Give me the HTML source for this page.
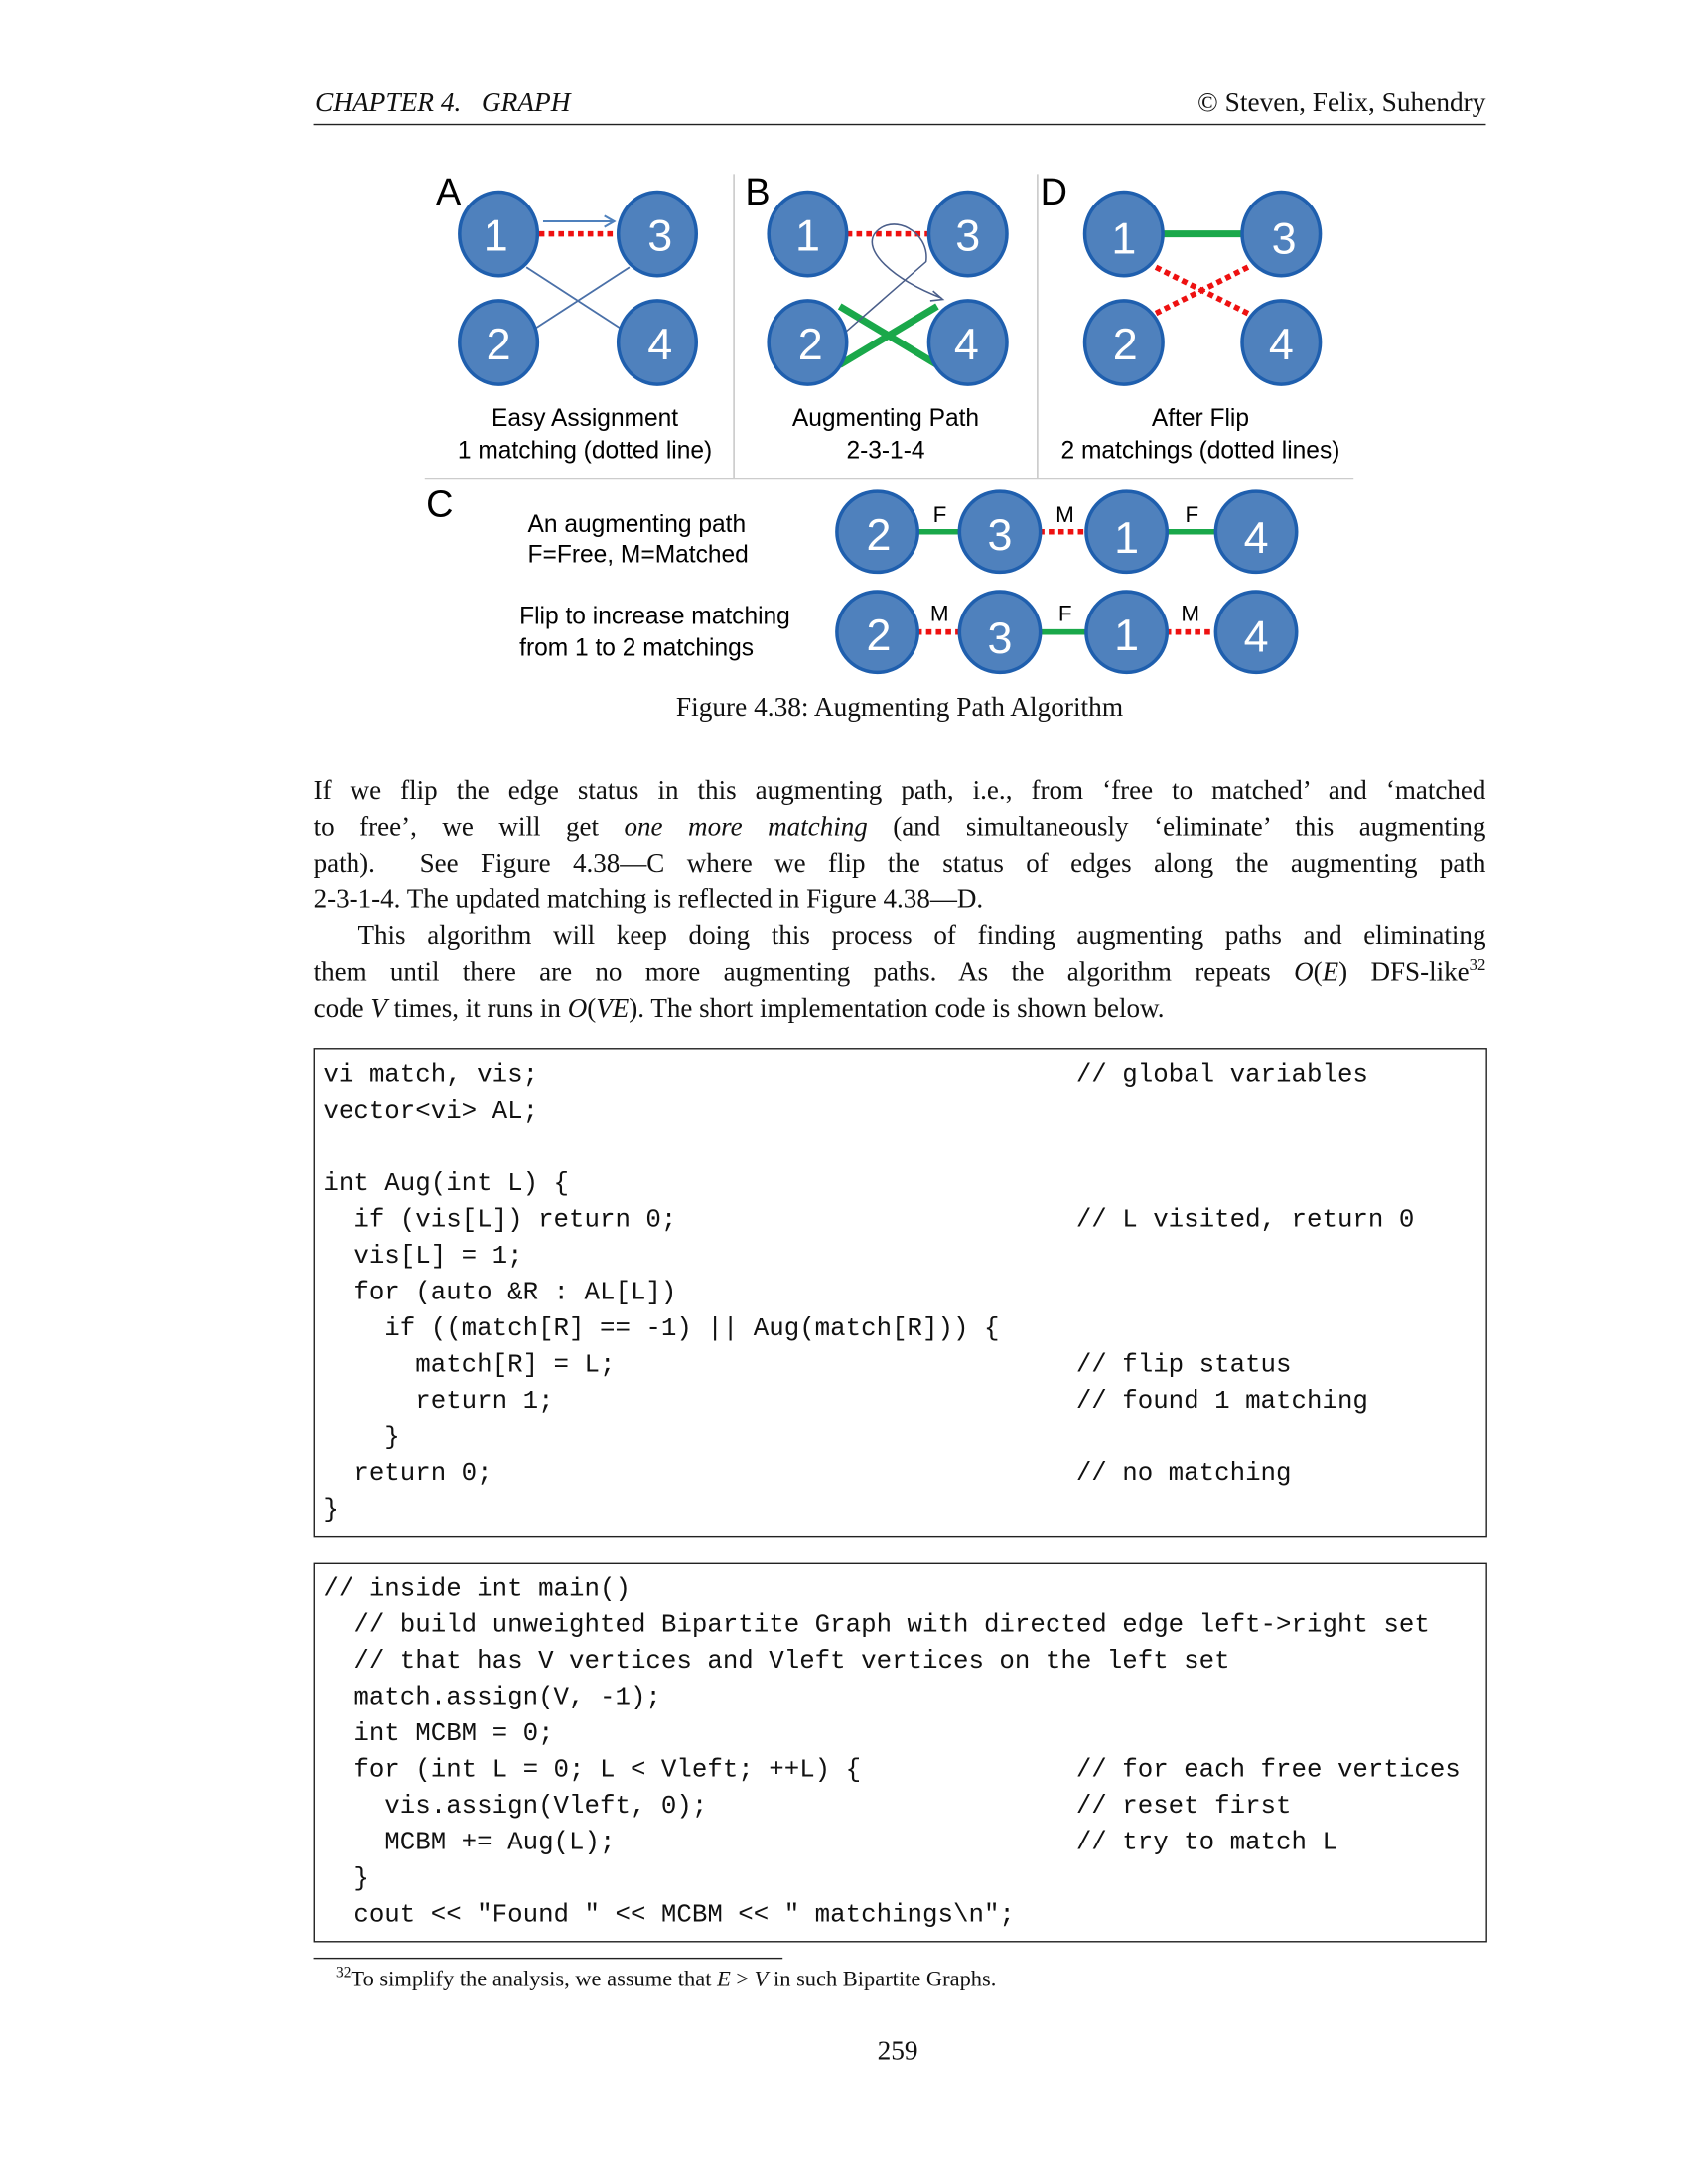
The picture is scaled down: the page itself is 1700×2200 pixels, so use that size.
<!DOCTYPE html>
<html><head><meta charset="utf-8">
<style>
html,body{margin:0;padding:0;background:#fff;}
#wrap{width:1700px;height:2200px;overflow:hidden;position:relative;}
#page{position:absolute;left:0;top:0;width:1224px;height:1584px;transform:scale(1.4025);transform-origin:0 0;font-family:"Liberation Serif",serif;color:#111;}
.abs{position:absolute;}
.ln{position:absolute;left:225px;width:842px;font-size:19.3px;text-align:justify;text-align-last:justify;white-space:nowrap;line-height:26px;}
.ln.nj{text-align-last:left;}
.box{position:absolute;left:225px;width:841px;border:1px solid #222;}
pre{margin:0;position:absolute;left:6px;font-family:"Liberation Mono",monospace;font-size:18.4px;line-height:26px;color:#111;}
</style></head><body>
<div id="wrap"><div id="page">
<div class="abs" style="left:226px;top:64px;font-size:19.5px;font-style:italic;">CHAPTER 4.&nbsp;&nbsp; GRAPH</div>
<div class="abs" style="right:157px;top:64px;font-size:19.5px;">© Steven, Felix, Suhendry</div>
<div class="abs" style="left:225px;top:89px;width:842px;height:1px;background:#222;"></div>

<svg class="abs" style="left:0;top:0" width="1224" height="540" viewBox="0 0 1224 540" font-family="Liberation Sans, sans-serif">
<g stroke="#ccc" stroke-width="1.2">
<line x1="527" y1="125" x2="527" y2="343"/><line x1="745" y1="125" x2="745" y2="343"/>
<line x1="305" y1="344" x2="972" y2="344"/></g>
<g font-size="27" fill="#000"><text x="313" y="147">A</text><text x="535" y="147">B</text><text x="747" y="147">D</text><text x="306" y="371">C</text></g>
<line x1="387" y1="168" x2="444" y2="168" stroke="#e11" stroke-width="4" stroke-dasharray="4,3"/>
<line x1="378" y1="192" x2="452" y2="240" stroke="#4a70a8" stroke-width="1.3"/>
<line x1="378" y1="240" x2="452" y2="192" stroke="#4a70a8" stroke-width="1.3"/>
<line x1="390" y1="159" x2="440" y2="159" stroke="#4f81bd" stroke-width="1.5"/><path d="M434,155 L441,159 L434,163" fill="none" stroke="#4f81bd" stroke-width="1.5"/>
<line x1="608" y1="168" x2="667" y2="168" stroke="#e11" stroke-width="4" stroke-dasharray="4,3"/>
<line x1="603" y1="220" x2="673" y2="262" stroke="#1aa84a" stroke-width="5"/>
<line x1="603" y1="262" x2="673" y2="220" stroke="#1aa84a" stroke-width="5"/>
<path d="M602,243 L665,188 C 668,166 640,152 628,168 C 620,180 640,200 676,214" fill="none" stroke="#4a5e8a" stroke-width="1.1"/>
<path d="M670,209 L677,215 L668,216" fill="none" stroke="#4a5e8a" stroke-width="1.1"/>
<line x1="835" y1="168" x2="892" y2="168" stroke="#1aa84a" stroke-width="5"/>
<line x1="830" y1="192" x2="898" y2="226" stroke="#e11" stroke-width="4" stroke-dasharray="4,3"/>
<line x1="830" y1="225" x2="898" y2="191" stroke="#e11" stroke-width="4" stroke-dasharray="4,3"/>
<line x1="658" y1="382" x2="690" y2="382" stroke="#1aa84a" stroke-width="4"/>
<line x1="746" y1="382" x2="781" y2="382" stroke="#e11" stroke-width="4" stroke-dasharray="4,3"/>
<line x1="837" y1="382" x2="874" y2="382" stroke="#1aa84a" stroke-width="4"/>
<line x1="658" y1="454" x2="690" y2="454" stroke="#e11" stroke-width="4" stroke-dasharray="4,3"/>
<line x1="746" y1="454" x2="781" y2="454" stroke="#1aa84a" stroke-width="4"/>
<line x1="837" y1="454" x2="874" y2="454" stroke="#e11" stroke-width="4" stroke-dasharray="4,3"/>
<g font-size="16" fill="#000"><text x="670" y="375">F</text><text x="758" y="375">M</text><text x="851" y="375">F</text>
<text x="668" y="446">M</text><text x="760" y="446">F</text><text x="848" y="446">M</text></g>
<g fill="#4f81bd" stroke="#1f5fae" stroke-width="2.5">
<ellipse cx="358" cy="168" rx="28" ry="30"/><ellipse cx="472" cy="168" rx="28" ry="30"/><ellipse cx="358" cy="246" rx="28" ry="30"/><ellipse cx="472" cy="246" rx="28" ry="30"/>
<ellipse cx="580" cy="168" rx="28" ry="30"/><ellipse cx="695" cy="168" rx="28" ry="30"/><ellipse cx="580" cy="246" rx="28" ry="30"/><ellipse cx="695" cy="246" rx="28" ry="30"/>
<ellipse cx="807" cy="168" rx="28" ry="30"/><ellipse cx="920" cy="168" rx="28" ry="30"/><ellipse cx="807" cy="246" rx="28" ry="30"/><ellipse cx="920" cy="246" rx="28" ry="30"/>
<ellipse cx="630" cy="382" rx="29" ry="29"/><ellipse cx="718" cy="382" rx="29" ry="29"/><ellipse cx="809" cy="382" rx="29" ry="29"/><ellipse cx="902" cy="382" rx="29" ry="29"/>
<ellipse cx="630" cy="454" rx="29" ry="29"/><ellipse cx="718" cy="454" rx="29" ry="29"/><ellipse cx="809" cy="454" rx="29" ry="29"/><ellipse cx="902" cy="454" rx="29" ry="29"/>
</g>
<g fill="#fff" font-size="32" text-anchor="middle">
<text x="356" y="180">1</text><text x="474" y="180">3</text><text x="358" y="258">2</text><text x="474" y="258">4</text>
<text x="580" y="180">1</text><text x="695" y="180">3</text><text x="582" y="258">2</text><text x="694" y="258">4</text>
<text x="807" y="182">1</text><text x="922" y="182">3</text><text x="808" y="258">2</text><text x="920" y="258">4</text>
<text x="631" y="395">2</text><text x="718" y="395">3</text><text x="809" y="397">1</text><text x="902" y="397">4</text>
<text x="631" y="467">2</text><text x="718" y="469">3</text><text x="809" y="467">1</text><text x="902" y="468">4</text>
</g>
<g font-size="17.5" fill="#000" text-anchor="middle">
<text x="420" y="306">Easy Assignment</text><text x="420" y="329">1 matching (dotted line)</text>
<text x="636" y="306">Augmenting Path</text><text x="636" y="329">2-3-1-4</text>
<text x="862" y="306">After Flip</text><text x="862" y="329">2 matchings (dotted lines)</text>
</g>
<g font-size="17.5" fill="#000">
<text x="379" y="382">An augmenting path</text><text x="379" y="404">F=Free, M=Matched</text>
<text x="373" y="448">Flip to increase matching</text><text x="373" y="471">from 1 to 2 matchings</text>
</g>
<text x="646" y="514" font-family="Liberation Serif, serif" font-size="19.5" text-anchor="middle" fill="#111">Figure 4.38:  Augmenting Path Algorithm</text>
</svg>

<div>
<div class="ln" style="top:556px">If we flip the edge status in this augmenting path, i.e., from ‘free to matched’ and ‘matched</div>
<div class="ln" style="top:582px">to free’, we will get <i>one more matching</i> (and simultaneously ‘eliminate’ this augmenting</div>
<div class="ln" style="top:608px">path).&nbsp; See Figure 4.38—C where we flip the status of edges along the augmenting path</div>
<div class="ln nj" style="top:634px">2-3-1-4. The updated matching is reflected in Figure 4.38—D.</div>
<div class="ln" style="top:660px;left:257px;width:810px">This algorithm will keep doing this process of finding augmenting paths and eliminating</div>
<div class="ln" style="top:686px">them until there are no more augmenting paths. As the algorithm repeats <i>O</i>(<i>E</i>) DFS-like<sup style="font-size:12px;line-height:0">32</sup></div>
<div class="ln nj" style="top:712px">code <i>V</i> times, it runs in <i>O</i>(<i>VE</i>). The short implementation code is shown below.</div>
</div>

<div class="box" style="top:753px;height:349px;">
<pre style="top:6px">vi match, vis;                                   // global variables
vector&lt;vi&gt; AL;

int Aug(int L) {
  if (vis[L]) return 0;                          // L visited, return 0
  vis[L] = 1;
  for (auto &amp;R : AL[L])
    if ((match[R] == -1) || Aug(match[R])) {
      match[R] = L;                              // flip status
      return 1;                                  // found 1 matching
    }
  return 0;                                      // no matching
}</pre></div>

<div class="box" style="top:1122px;height:271px;">
<pre style="top:6px">// inside int main()
  // build unweighted Bipartite Graph with directed edge left-&gt;right set
  // that has V vertices and Vleft vertices on the left set
  match.assign(V, -1);
  int MCBM = 0;
  for (int L = 0; L &lt; Vleft; ++L) {              // for each free vertices
    vis.assign(Vleft, 0);                        // reset first
    MCBM += Aug(L);                              // try to match L
  }
  cout &lt;&lt; "Found " &lt;&lt; MCBM &lt;&lt; " matchings\n";</pre></div>

<div class="abs" style="left:225px;top:1406px;width:337px;height:1px;background:#222;"></div>
<div class="abs" style="left:241px;top:1411px;font-size:16px;"><sup style="font-size:11px">32</sup>To simplify the analysis, we assume that <i>E</i> &gt; <i>V</i> in such Bipartite Graphs.</div>
<div class="abs" style="left:630px;top:1463px;font-size:19.5px;">259</div>
</div></div>
</body></html>
